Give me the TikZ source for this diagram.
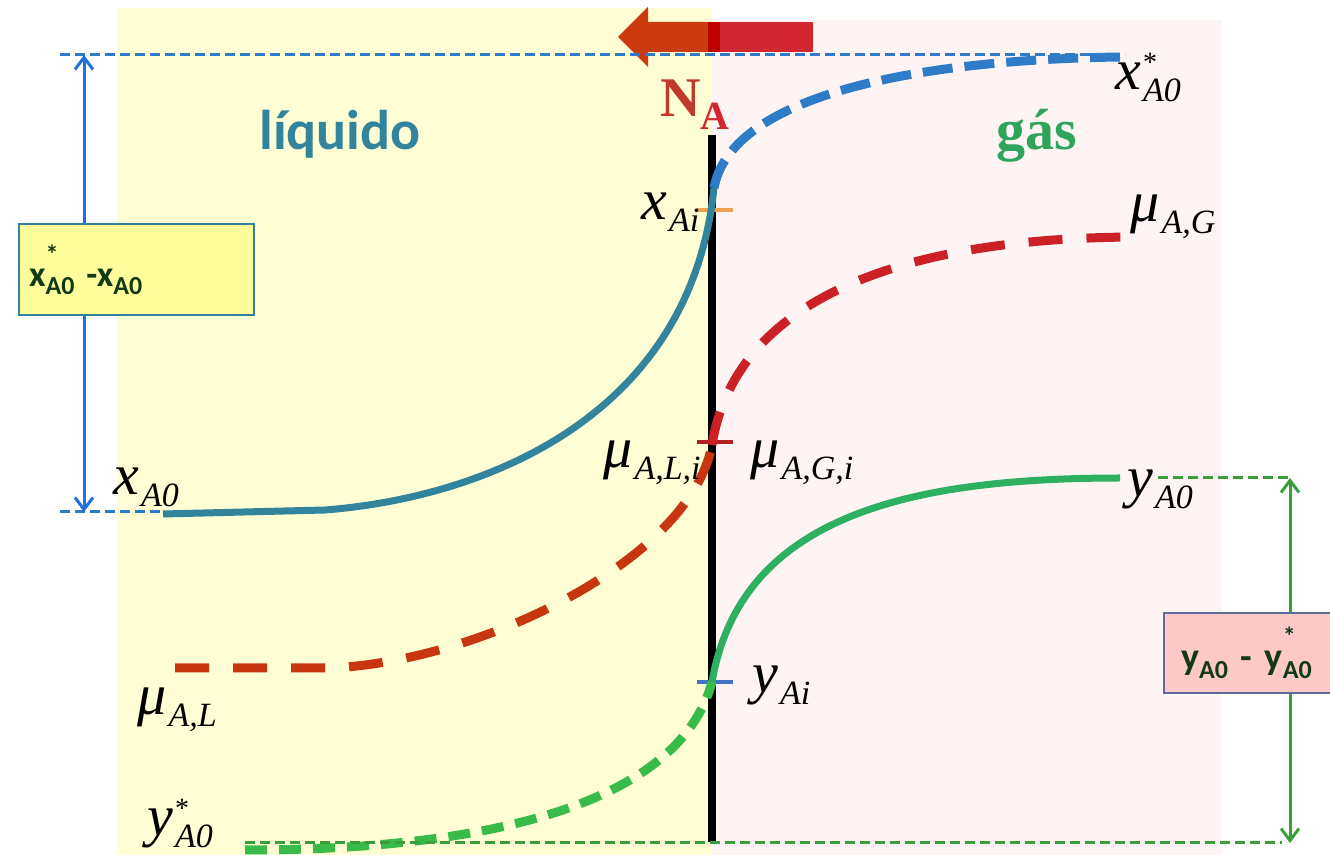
\documentclass[tikz,border=0pt]{standalone}
\usepackage{fontspec}
\setmainfont{Liberation Serif}
\newfontfamily\calib{Carlito}
\usepackage{tikz}
\usetikzlibrary{arrows.meta,positioning}
\definecolor{LiqBg}{HTML}{FFFDD4}
\definecolor{GasBg}{HTML}{FEF4F4}
\definecolor{Teal}{HTML}{31849B}
\definecolor{XStar}{HTML}{2E7BC8}
\definecolor{LineBlue}{HTML}{2070DC}
\definecolor{MuL}{HTML}{C8360F}
\definecolor{MuG}{HTML}{CC2027}
\definecolor{YSol}{HTML}{2DB060}
\definecolor{YDash}{HTML}{38BB48}
\definecolor{LineGreen}{HTML}{3A9E3A}
\definecolor{GasTxt}{HTML}{2EA55A}
\definecolor{BoxYel}{HTML}{FEFD9C}
\definecolor{BoxPink}{HTML}{FDC8C8}
\definecolor{BoxLine}{HTML}{5B6B9A}
\definecolor{BoxTxt}{HTML}{133A15}
\definecolor{FluxL}{HTML}{CC3A10}
\definecolor{FluxR}{HTML}{D22630}
\definecolor{NRed}{HTML}{C0392B}
\definecolor{TickO}{HTML}{F0A050}
\definecolor{TickR}{HTML}{B22222}
\definecolor{TickB}{HTML}{4472C4}
% quantity with subscript and optional star
\newcommand{\qlab}[3]{\textit{#1}\kern1pt\rlap{\raisebox{.7ex}{\fontsize{14}{14}\selectfont #3}}\raisebox{-.45ex}{\fontsize{17}{17}\selectfont\textit{#2}}}
\newcommand{\bsub}[1]{\raisebox{-.5ex}{\fontsize{13}{13}\selectfont #1}}
\newcommand{\bsup}{\rlap{\raisebox{1.3ex}{\fontsize{13}{13}\selectfont *}}}

\begin{document}
\begin{tikzpicture}[x=0.5pt,y=-0.5pt,>={Straight Barb[length=6pt,width=9pt]},
  lbl/.style={font=\fontsize{29}{30}\selectfont,inner sep=0pt,anchor=base west},
  thin dash/.style={line width=1.5pt,dash pattern=on 5pt off 2.5pt},
  tick/.style={line width=2pt}]
  \useasboundingbox (0,0) rectangle (1330,855);
  \fill[LiqBg] (117,8) rectangle (712,855);
  \fill[GasBg] (712,20) rectangle (1222,855);
  % flux arrow
  \fill[FluxL] (618,37) -- (648,7) -- (648,22) -- (712,22) -- (712,52) -- (648,52) -- (648,67) -- cycle;
  \fill[FluxR] (712,22) rectangle (813,52);
  \fill[red!75!black] (708,22) rectangle (720,52);
  \node[anchor=base west,inner sep=0pt,font=\fontsize{28}{28}\selectfont\bfseries,text=NRed] (NA) at (660,117) {N\raisebox{-.5ex}{\fontsize{20}{20}\selectfont\textcolor{FluxR}{A}}};
  \node[anchor=base,inner sep=0pt,font=\calib\bfseries\fontsize{28}{30}\selectfont,text=Teal] (liq) at (340,150) {líquido};
  \node[anchor=base,inner sep=0pt,font=\bfseries\fontsize{29}{30}\selectfont,text=GasTxt] (gas) at (1037,150) {gás};
  \coordinate (itop) at (712,135);
  \coordinate (ibot) at (712,842);
  \draw[line width=4pt] (itop) -- (ibot);
  \draw[TickO,tick] (697,210) -- (733,210);
  \draw[TickR,tick] (697,442) -- (733,442);
  \draw[TickB,tick] (697,682) -- (733,682);
  \coordinate (xi) at (714,188);
  \coordinate (mui) at (712,445);
  \coordinate (yi) at (712,682);
  \draw[Teal,line width=3.5pt] (163,514) -- (325,510) .. controls (480,498) and (690,420) .. (xi);
  \draw[XStar,line width=4.5pt,dash pattern=on 15pt off 6pt] (xi) .. controls (730,100) and (900,60) .. (1120,57);
  \draw[MuL,line width=4.5pt,dash pattern=on 17pt off 12pt] (175,668) -- (330,668) .. controls (480,662) and (690,560) .. (mui);
  \draw[MuG,line width=4.5pt,dash pattern=on 17pt off 12pt] (mui) .. controls (735,300) and (900,237) .. (1140,237);
  \draw[YSol,line width=3.5pt] (yi) .. controls (740,520) and (900,478) .. (1120,478);
  \draw[YDash,line width=4.5pt,dash pattern=on 11pt off 6pt] (245,850) .. controls (500,850) and (680,800) .. (yi);
  % guide lines
  \coordinate (xtop) at (84,55);
  \coordinate (xbot) at (84,512);
  \coordinate (ytop) at (1290,478);
  \coordinate (ybot) at (1290,843);
  \draw[XStar,thin dash] (60,55) -- (1125,55);
  \draw[XStar,thin dash] (60,512) -- (163,512);
  \draw[LineGreen,thin dash] (1158,478) -- (ytop);
  \draw[LineGreen,thin dash] (245,843) -- (1282,843);
  \node[draw=Teal,fill=BoxYel,line width=1pt,anchor=west,minimum height=45.5pt,text width=107.5pt,inner xsep=5pt,align=left,text=BoxTxt,font=\calib\bfseries\fontsize{18}{18}\selectfont] (xbox) at (18,270) {\raisebox{3pt}{x\bsup\bsub{A0} -x\bsub{A0}}};
  \node[draw=BoxLine,fill=BoxPink,line width=1pt,anchor=west,minimum height=40pt,text width=80pt,inner xsep=8.5pt,align=left,text=BoxTxt,font=\calib\bfseries\fontsize{19}{19}\selectfont] (ybox) at (1163,653) {y\bsub{A0} - y\bsup\bsub{A0}};
  \draw[LineBlue,line width=1.5pt,->] (xtop |- xbox.north) -- (xtop);
  \draw[LineBlue,line width=1.5pt,->] (xtop |- xbox.south) -- (xbot);
  \draw[LineGreen,line width=1.5pt,->] (ytop |- ybox.north) -- (ytop);
  \draw[LineGreen,line width=1.5pt,->] (ytop |- ybox.south) -- (ybot);
  % labels
  \node[lbl] (xA0) at (113,495) {\qlab{x}{A0}{}};
  \node[lbl] (muAL) at (137,715) {\qlab{μ}{A,L}{}};
  \node[lbl] (ystar) at (147,836) {\qlab{y}{A0}{*}};
  \node[lbl] (xAi) at (641,220) {\qlab{x}{Ai}{}};
  \node[lbl] (muALi) at (603,468) {\qlab{μ}{A,L,i}{}};
  \node[lbl] (muAGi) at (750,468) {\qlab{μ}{A,G,i}{}};
  \node[lbl] (yAi) at (752,693) {\qlab{y}{Ai}{}};
  \node[lbl] (xstar) at (1115,90) {\qlab{x}{A0}{*}};
  \node[lbl] (muAG) at (1130,222) {\qlab{μ}{A,G}{}};
  \node[lbl] (yA0) at (1127,497) {\qlab{y}{A0}{}};
\end{tikzpicture}
\end{document}
